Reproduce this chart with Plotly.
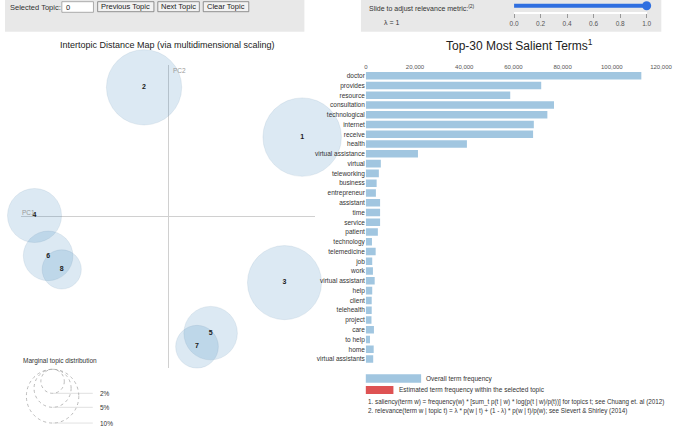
import math

import plotly.graph_objects as go

W, H = 685, 427
FONT = "Liberation Sans, Arial, sans-serif"

# ---- data ----
TOPICS = ["1", "2", "3", "4", "5", "6", "7", "8"]
PC1 = [0.364, -0.066, 0.316, -0.364, 0.115, -0.327, 0.078, -0.290]
PC2 = [0.211, 0.343, -0.175, 0.003, -0.309, -0.104, -0.345, -0.140]
MARGINAL_PCT = [21.3, 19.6, 19.0, 10.1, 9.9, 8.5, 6.3, 5.3]
LEGEND_PCT = [2, 5, 10]

TERMS = [
    "doctor", "provides", "resource", "consultation", "technological",
    "internet", "receive", "health", "virtual assistance", "virtual",
    "teleworking", "business", "entrepreneur", "assistant", "time",
    "service", "patient", "technology", "telemedicine", "job",
    "work", "virtual assistant", "help", "client", "telehealth",
    "project", "care", "to help", "home", "virtual assistants",
]
TERM_FREQ = [
    112000, 71300, 58700, 76500, 73800,
    68300, 68000, 41100, 21200, 6100,
    5300, 4400, 4100, 5800, 5800,
    5800, 4900, 2500, 4000, 2600,
    2900, 3600, 2600, 2400, 2400,
    2300, 3300, 1700, 3200, 3000,
]
FREQ_TICKS = [0, 20000, 40000, 60000, 80000, 100000, 120000]

LAMBDA = 1.0
LAMBDA_TICKS = [0.0, 0.2, 0.4, 0.6, 0.8, 1.0]

# circle radius in px per sqrt(percent)
R_PER_SQRT = 8.5


def px(x):
    return x / W


def py(y):
    return 1 - y / H


fig = go.Figure()

# intertopic distance map
fig.add_trace(go.Scatter(
    x = PC1, y = PC2, text = [f"<b>{t}</b>" for t in TOPICS],
    mode = "markers+text",
    marker = dict(
        size = [2 * R_PER_SQRT * math.sqrt(p) for p in MARGINAL_PCT],
        color = "rgba(31,119,180,0.22)",
        line = dict(width = 0.6, color = "rgba(60,110,150,0.25)"),
    ),
    textfont = dict(size = 7, color = "#1a1a1a", family = FONT),
    textposition = "middle center",
    cliponaxis = False,
    hoverinfo = "skip",
    xaxis = "x", yaxis = "y",
))

# salient terms
fig.add_trace(go.Bar(
    x = TERM_FREQ, y = TERMS, orientation = "h",
    marker = dict(color = "rgba(31,119,180,0.42)", line = dict(width = 0)),
    xaxis = "x2", yaxis = "y2",
    hoverinfo = "skip",
))

# relevance slider
fig.add_trace(go.Scatter(
    x = [0, LAMBDA], y = [0.73, 0.73], mode = "lines",
    line = dict(color = "#2f6fe0", width = 4),
    xaxis = "x3", yaxis = "y3", hoverinfo = "skip",
))
fig.add_trace(go.Scatter(
    x = [LAMBDA], y = [0.73], mode = "markers",
    marker = dict(color = "#2f6fe0", size = 9),
    xaxis = "x3", yaxis = "y3", hoverinfo = "skip", cliponaxis = False,
))

hidden = dict(showgrid = False, showticklabels = False, ticks = "", showline = False)

fig.update_layout(
    width = W, height = H,
    margin = dict(l = 0, r = 0, t = 0, b = 0),
    paper_bgcolor = "white", plot_bgcolor = "white",
    showlegend = False,
    font = dict(family = FONT, color = "#333"),
    xaxis = dict(
        domain = [px(16.7), px(318.3)], range = [-0.4, 0.4],
        zeroline = True, zerolinecolor = "#d0d0d0", zerolinewidth = 1,
        anchor = "y", **hidden,
    ),
    yaxis = dict(
        domain = [py(368.3), py(65)], range = [-0.4023, 0.4023],
        zeroline = True, zerolinecolor = "#d0d0d0", zerolinewidth = 1,
        anchor = "x", **hidden,
    ),
    xaxis2 = dict(
        domain = [px(370), px(672.7)], range = [0, 120000],
        side = "top", anchor = "y2",
        tickvals = FREQ_TICKS, tickformat = ",",
        showgrid = False, zeroline = False, showline = False, ticks = "",
        tickfont = dict(size = 6, color = "#555"),
    ),
    yaxis2 = dict(
        domain = [py(363.9), py(70.8)], anchor = "x2",
        type = "category", categoryorder = "array", categoryarray = TERMS,
        autorange = "reversed",
        showgrid = False, zeroline = False, showline = False, ticks = "",
        tickfont = dict(size = 6.5, color = "#333"),
    ),
    bargap = 0.23,
    xaxis3 = dict(
        domain = [px(522), px(658)], range = [0, 1], anchor = "y3",
        tickvals = LAMBDA_TICKS, ticktext = [f"{t:.1f}" for t in LAMBDA_TICKS],
        ticks = "outside", ticklen = 4, tickcolor = "#999",
        showgrid = False, zeroline = False, showline = False,
        tickfont = dict(size = 6.5, color = "#555"),
    ),
    yaxis3 = dict(domain = [py(13), py(3)], range = [0, 1], anchor = "x3", **hidden),
)

shapes = []
annotations = []

# control panels
for x0, x1 in [(0, 307), (365, 673)]:
    shapes.append(dict(type = "rect", xref = "paper", yref = "paper",
                       x0 = px(x0), x1 = px(x1), y0 = py(31.7), y1 = py(0),
                       fillcolor = "#e8e8e8", line = dict(width = 0), layer = "below"))

annotations.append(dict(text = "Selected Topic:", x = px(3), y = py(7), xanchor = "left",
                        font = dict(size = 7.5, color = "#333")))
shapes.append(dict(type = "rect", xref = "paper", yref = "paper",
                   x0 = px(58.3), x1 = px(90.7), y0 = py(12.3), y1 = py(1.7),
                   fillcolor = "white", line = dict(width = 0.8, color = "#999")))
annotations.append(dict(text = "0", x = px(61), y = py(7), xanchor = "left",
                        font = dict(size = 7.5, color = "#222")))
for label, x0, x1 in [("Previous Topic", 95, 152.7), ("Next Topic", 156.7, 199.3),
                      ("Clear Topic", 203.3, 250)]:
    shapes.append(dict(type = "rect", xref = "paper", yref = "paper",
                       x0 = px(x0), x1 = px(x1), y0 = py(11.7), y1 = py(1.7),
                       fillcolor = "#f2f2f2", line = dict(width = 0.8, color = "#777")))
    annotations.append(dict(text = label, x = px((x0 + x1) / 2), y = py(6.8),
                            font = dict(size = 7.5, color = "#222")))

annotations.append(dict(text = "Slide to adjust relevance metric:<sup>(2)</sup>",
                        x = px(370.7), y = py(8.3), xanchor = "left",
                        font = dict(size = 7, color = "#333")))
annotations.append(dict(text = "\u03bb = 1", x = px(396.7), y = py(22.3),
                        font = dict(size = 7, color = "#333")))

# titles
annotations.append(dict(text = "Intertopic Distance Map (via multidimensional scaling)",
                        x = px(166.7), y = py(45), font = dict(size = 9, color = "#222")))
annotations.append(dict(text = "Top-30 Most Salient Terms<sup>1</sup>",
                        x = px(528), y = py(45), font = dict(size = 12, color = "#222")))

# PC labels
annotations.append(dict(text = "PC1", xref = "x", yref = "y", x = -0.4, y = 0,
                        xanchor = "left", yanchor = "bottom", showarrow = False,
                        borderpad = 0,
                        font = dict(size = 6.5, color = "#999")))
annotations.append(dict(text = "PC2", xref = "x", yref = "y", x = 0, y = 0.4023,
                        xanchor = "left", yanchor = "top", xshift = 3,
                        font = dict(size = 6.5, color = "#999")))

# marginal topic distribution legend
annotations.append(dict(text = "Marginal topic distribution", x = px(56.7), y = py(361),
                        font = dict(size = 6.5, color = "#333")))
cx, top = 48.8, 369.3
for p in LEGEND_PCT:
    r = R_PER_SQRT * math.sqrt(p)
    shapes.append(dict(type = "circle", xref = "paper", yref = "paper",
                       x0 = px(cx - r), x1 = px(cx + r), y0 = py(top + 2 * r), y1 = py(top),
                       line = dict(width = 0.8, color = "#aaa", dash = "dot")))
    shapes.append(dict(type = "line", xref = "paper", yref = "paper",
                       x0 = px(cx), x1 = px(90), y0 = py(top + 2 * r), y1 = py(top + 2 * r),
                       line = dict(width = 0.6, color = "#ccc")))
    annotations.append(dict(text = f"{p}%", x = px(95), y = py(top + 2 * r), xanchor = "left",
                            font = dict(size = 6.5, color = "#333")))

# bar legend and footnotes
shapes.append(dict(type = "rect", xref = "paper", yref = "paper",
                   x0 = px(370), x1 = px(426.7), y0 = py(382.7), y1 = py(374.3),
                   fillcolor = "rgba(31,119,180,0.42)", line = dict(width = 0)))
annotations.append(dict(text = "Overall term frequency", x = px(430), y = py(378.5),
                        xanchor = "left", font = dict(size = 6.5, color = "#333")))
shapes.append(dict(type = "rect", xref = "paper", yref = "paper",
                   x0 = px(370), x1 = px(398.3), y0 = py(394), y1 = py(386),
                   fillcolor = "rgba(214,39,40,0.8)", line = dict(width = 0)))
annotations.append(dict(text = "Estimated term frequency within the selected topic",
                        x = px(401.7), y = py(390), xanchor = "left",
                        font = dict(size = 6.5, color = "#333")))
annotations.append(dict(
    text = "1. saliency(term w) = frequency(w) * [sum_t p(t | w) * log(p(t | w)/p(t))] "
           "for topics t; see Chuang et. al (2012)",
    x = px(370), y = py(402.3), xanchor = "left", font = dict(size = 6.3, color = "#333")))
annotations.append(dict(
    text = "2. relevance(term w | topic t) = \u03bb * p(w | t) + (1 - \u03bb) * p(w | t)/p(w); "
           "see Sievert &amp; Shirley (2014)",
    x = px(370), y = py(411), xanchor = "left", font = dict(size = 6.3, color = "#333")))

for a in annotations:
    a.setdefault("xref", "paper")
    a.setdefault("yref", "paper")
    a.setdefault("showarrow", False)
    a.setdefault("xanchor", "center")
    a.setdefault("yanchor", "middle")

fig.update_layout(shapes = shapes, annotations = annotations)

fig.write_html(
    "out.html",
    config = {"displayModeBar": False},
    post_script = "document.body.style.margin = '0'; document.body.style.overflow = 'hidden';",
)
